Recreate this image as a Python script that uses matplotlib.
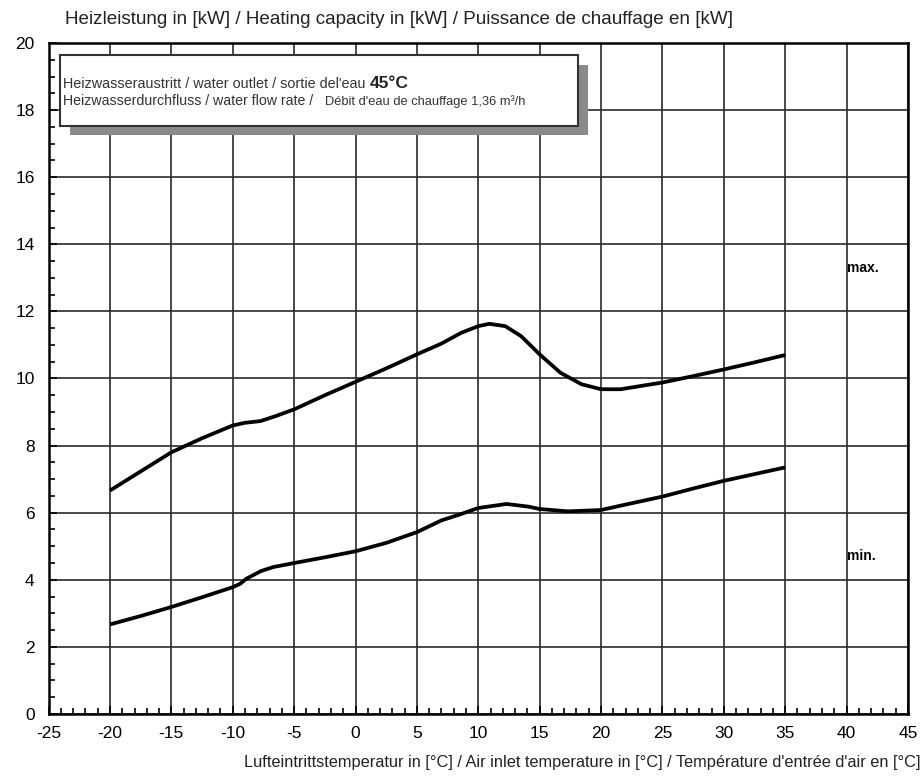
import matplotlib
matplotlib.use('Agg')
import matplotlib.pyplot as plt
from matplotlib.patches import Rectangle
from matplotlib.ticker import MultipleLocator

plt.rcParams['font.family'] = ['Liberation Sans', 'DejaVu Sans']
plt.rcParams['axes.unicode_minus'] = False

# Werte
temp_max = [-20, -17.5, -15, -12.5, -10, -9, -7.75, -6.5, -5, -2.5, 0, 2.5, 5, 7, 8.6, 10,
            10.9, 12.2, 13.5, 15, 16.7, 18.4, 20, 21.6, 25, 27.5, 30, 32.5, 35]
heat_max = [6.66, 7.23, 7.80, 8.22, 8.6, 8.68, 8.73, 8.88, 9.08, 9.5, 9.9, 10.3, 10.72, 11.04, 11.36, 11.56,
            11.63, 11.56, 11.26, 10.72, 10.17, 9.83, 9.68, 9.68, 9.88, 10.07, 10.27, 10.48, 10.7]

temp_min = [-20, -17.5, -15, -12.5, -10, -9.4, -8.9, -7.7, -6.7, -5, -2.5, 0, 2.5, 5, 7, 8.6, 10,
            12.3, 14.1, 15, 17.3, 20, 21.6, 25, 27.5, 30, 32.5, 35]
heat_min = [2.67, 2.92, 3.19, 3.48, 3.78, 3.88, 4.03, 4.26, 4.38, 4.5, 4.67, 4.85, 5.1, 5.42, 5.77, 5.96, 6.14,
            6.26, 6.18, 6.11, 6.04, 6.08, 6.21, 6.48, 6.72, 6.95, 7.15, 7.35]

x_ticks = list(range(-25, 50, 5))
y_ticks = list(range(0, 22, 2))

fig = plt.figure(figsize=(9.24, 7.76), dpi=100)
ax = fig.add_axes([0.0526, 0.0799, 0.93, 0.8647])

ax.set_xlim(-25, 45)
ax.set_ylim(0, 20)
ax.set_xticks(x_ticks)
ax.set_yticks(y_ticks)
ax.xaxis.set_minor_locator(MultipleLocator(1))
ax.yaxis.set_minor_locator(MultipleLocator(0.5))
ax.tick_params(which='both', direction='in', colors='black', labelsize=12.5)
ax.tick_params(which='major', length=6, width=1.2)
ax.tick_params(axis='x', which='major', pad=9)
ax.tick_params(axis='y', which='major', pad=10)
ax.tick_params(which='minor', length=4, width=1.2)
ax.grid(True, which='major', color='#2a2a2a', linewidth=1.2)
for s in ax.spines.values():
    s.set_linewidth(1.8)
    s.set_color('black')

ax.plot(temp_max, heat_max, color='black', linewidth=2.7, solid_capstyle='butt')
ax.plot(temp_min, heat_min, color='black', linewidth=2.7, solid_capstyle='butt')

ax.text(40.0, 13.29, 'max.', fontsize=10, fontweight='bold', va='center', ha='left')
ax.text(40.0, 4.71, 'min.', fontsize=10, fontweight='bold', va='center', ha='left')

# Kasten mit Schatten
shadow = Rectangle((70 / 924, 1 - 135 / 776), 518 / 924, 70 / 776, transform=fig.transFigure,
                   facecolor='#8a8a8a', edgecolor='none', zorder=5)
box = Rectangle((60 / 924, 1 - 126 / 776), 518 / 924, 71 / 776, transform=fig.transFigure,
                facecolor='white', edgecolor='#333333', linewidth=1.5, zorder=6)
fig.patches.extend([shadow, box])

fig.text(63 / 924, 1 - 88 / 776, 'Heizwasseraustritt / water outlet / sortie del\'eau ',
         fontsize=10.4, color='#333333', va='baseline', zorder=7)
fig.text(370 / 924, 1 - 88 / 776, '45°C', fontsize=12.5, fontweight='bold', color='#222222',
         va='baseline', zorder=7)
fig.text(63 / 924, 1 - 105 / 776, 'Heizwasserdurchfluss / water flow rate /',
         fontsize=10.2, color='#333333', va='baseline', zorder=7)
fig.text(325 / 924, 1 - 105 / 776, 'Débit d\'eau de chauffage 1,36 m³/h',
         fontsize=9.3, color='#333333', va='baseline', zorder=7)

fig.text(65 / 924, 1 - 20 / 776, 'Heizleistung in [kW] / Heating capacity in [kW] / Puissance de chauffage en [kW]',
         fontsize=13.6, color='#222222', va='center', ha='left')
fig.text(920 / 924, 1 - 762 / 776,
         'Lufteintrittstemperatur in [°C] / Air inlet temperature in [°C] / Température d\'entrée d\'air en [°C]',
         fontsize=11.8, color='#222222', va='center', ha='right')

fig.savefig('out.png', dpi=100)
